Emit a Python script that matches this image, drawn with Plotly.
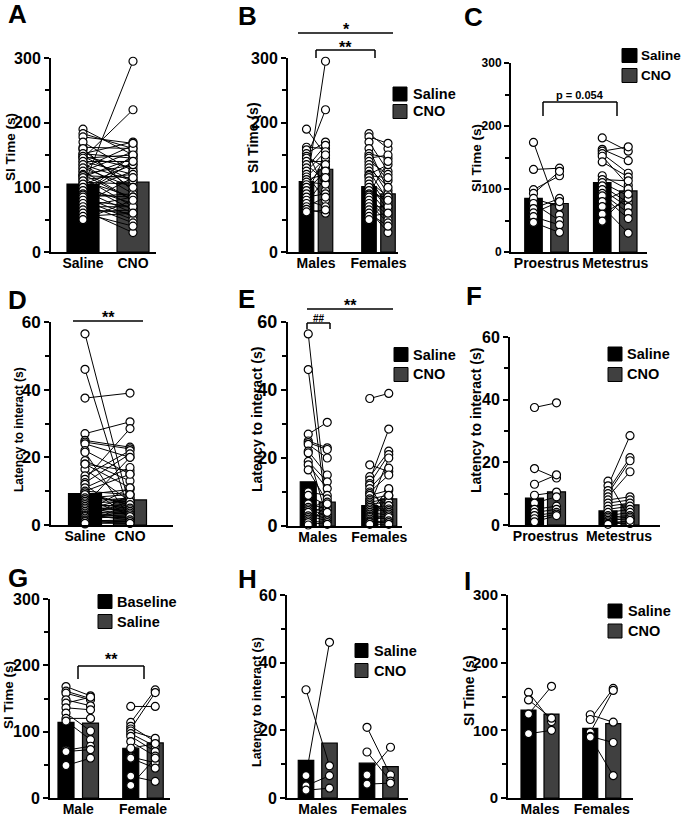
import plotly.graph_objects as go

W, H = 682, 817
NEGRO = '#000000'
GRIS = '#404040'
FUENTE = 'Liberation Sans'

# ---------------- datos ----------------
# B: tiempo de interaccion social (s) - machos / hembras, salino vs CNO
b_machos_sal = [190, 162, 158, 152, 148, 145, 140, 135, 130, 125, 120, 116,
                112, 108, 104, 100, 95, 90, 85, 80, 75, 70, 66, 62]
b_machos_cno = [150, 160, 95, 170, 130, 220, 140, 110, 165, 155, 80, 145,
                120, 105, 135, 295, 125, 150, 90, 70, 115, 85, 60, 65]
b_hembras_sal = [183, 178, 170, 160, 152, 148, 145, 140, 135, 130, 125, 120, 118, 115,
                 110, 105, 100, 95, 90, 88, 85, 80, 75, 70, 65, 60, 55, 50]
b_hembras_cno = [160, 168, 125, 95, 145, 110, 150, 120, 90, 100, 80, 135, 115, 70,
                 85, 65, 75, 60, 140, 85, 55, 50, 45, 70, 30, 40, 60, 80]

# C: hembras por fase del ciclo
c_pro_sal = [174, 131, 99, 93, 85, 77, 69, 62, 56, 47]
c_pro_cno = [59, 133, 121, 128, 72, 50, 85, 80, 43, 31]
c_met_sal = [181, 163, 160, 156, 152, 143, 121, 115, 110, 105, 99, 93, 89, 80, 72, 60, 49]
c_met_cno = [160, 145, 167, 125, 106, 119, 99, 113, 89, 78, 71, 62, 53, 100, 30, 85, 92]

# E: latencia para interactuar (s)
e_machos_sal = [56.5, 46, 27, 25, 24.5, 24, 22, 21.5, 19, 18, 16.5, 10,
                9, 6.5, 5.5, 5, 4.5, 4, 3, 2.5, 2, 1.5, 1, 0.3]
e_machos_cno = [5, 3, 30.5, 23, 22.5, 20, 15, 2, 13, 11, 7, 9,
                6, 5, 4, 3, 8, 2, 1.5, 7, 4, 1, 0.5, 6.5]
e_hembras_sal = [37.5, 18, 14.5, 13.5, 12.5, 12, 11, 10, 9.5, 9, 8, 7.5, 7, 6.5,
                 6, 5.5, 5, 4.5, 4, 3.5, 3, 2.8, 2.5, 2, 1.5, 1.2, 1, 0.5]
e_hembras_cno = [39, 16, 22, 28.5, 21, 2, 17, 15, 6, 10.5, 9, 3, 8, 7,
                 20, 6, 5, 4.5, 11, 4, 3.5, 2, 3, 2.5, 9, 1.5, 1, 0.5]

# F: latencia por fase del ciclo
f_pro_sal = [37.5, 18, 13, 9.5, 7, 5, 4, 3, 2, 1]
f_pro_cno = [39, 15, 16, 10.5, 9, 6, 5, 4, 3.5, 3]
f_met_sal = [14, 12.5, 11, 10, 9, 8, 7, 6, 5, 4, 3, 2.5, 2, 1.5, 1, 0.5, 0.2]
f_met_cno = [2, 28.5, 21.5, 20.5, 17, 9, 8, 7, 6, 5, 4, 3, 2.5, 2, 1, 0.5, 1.5]

# G: linea base vs salino
g_macho_base = [168, 161, 158, 148, 143, 136, 128, 120, 116, 72, 70, 49]
g_macho_sal = [154, 150, 148, 139, 152, 133, 101, 120, 88, 78, 73, 60]
g_hembra_base = [138, 114, 108, 104, 101, 97, 93, 85, 62, 60, 33, 19, 75]
g_hembra_sal = [138, 163, 85, 159, 90, 78, 70, 63, 53, 45, 25, 60, 82]

# H: latencia (cohorte pequena)
h_machos_sal = [32, 6.6, 3.6, 2.3]
h_machos_cno = [9.5, 46, 6.6, 2.9]
h_hembras_sal = [20.9, 13.6, 6.8, 4.1]
h_hembras_cno = [6.8, 5.0, 15.0, 4.4]

# I: tiempo SI (cohorte pequena)
i_machos_sal = [156, 145, 124, 95]
i_machos_cno = [113, 118, 165, 100]
i_hembras_sal = [123, 116, 97, 91, 90]
i_hembras_cno = [112, 162, 159, 82, 33]

# medias (altura de las barras)
a_medias = [105, 108]
b_medias = [109, 128, 101, 90]
c_medias = [85, 77, 110, 97]
d_medias = [9.3, 7.4]
e_medias = [13, 7, 6, 8]
f_medias = [8.6, 10.6, 4.5, 6.4]
g_medias = [114, 113, 75, 83]
h_medias = [11.1, 16.2, 10.3, 9.3]
i_medias = [130, 124, 103, 110]

# ---------------- paneles ----------------
# xd/yd: pixeles del eje; centros: pixel de cada grupo; off: separacion de barras
paneles = [
    dict(letra='A', xd=(51, 156), yd=(58, 252), ymax=300, centros=(83, 133), off=0, bw=32,
         cats=['Saline', 'CNO'], medias=a_medias,
         pares=[(b_machos_sal + b_hembras_sal, b_machos_cno + b_hembras_cno)],
         titulo='SI Time (s)', tit=(10, 147, 13.5), tick=16, pos_letra=(6, 14)),
    dict(letra='B', xd=(288, 398), yd=(58, 252), ymax=300, centros=(316, 378.5), off=9.5, bw=14.5,
         cats=['Males', 'Females'], medias=b_medias,
         pares=[(b_machos_sal, b_machos_cno), (b_hembras_sal, b_hembras_cno)],
         titulo='SI Time (s)', tit=(253, 138, 14), tick=16, pos_letra=(236, 16),
         leyenda=dict(sq=(393, 407), ys=(94, 111.5), tx=411, et=['Saline', 'CNO'], fs=14.5)),
    dict(letra='C', xd=(511, 647), yd=(63, 252), ymax=300, centros=(546.5, 615.25), off=13, bw=17.5,
         cats=['Proestrus', 'Metestrus'], medias=c_medias,
         pares=[(c_pro_sal, c_pro_cno), (c_met_sal, c_met_cno)],
         titulo='SI Time (s)', tit=(476, 158, 13.5), tick=12, pos_letra=(462, 17),
         leyenda=dict(sq=(622, 637), ys=(55.5, 75.5), tx=639, et=['Saline', 'CNO'], fs=13.5)),
    dict(letra='D', xd=(51, 173), yd=(322, 525), ymax=60, centros=(85, 130), off=0, bw=33,
         cats=['Saline', 'CNO'], medias=d_medias,
         pares=[(e_machos_sal + e_hembras_sal, e_machos_cno + e_hembras_cno)],
         titulo='Latency to interact (s)', tit=(19, 430, 12), tick=17, pos_letra=(6, 300)),
    dict(letra='E', xd=(288, 402), yd=(322, 526), ymax=60, centros=(317.75, 379.25), off=9.5, bw=16,
         cats=['Males', 'Females'], medias=e_medias,
         pares=[(e_machos_sal, e_machos_cno), (e_hembras_sal, e_hembras_cno)],
         titulo='Latency to interact (s)', tit=(257, 420, 14), tick=18, pos_letra=(236, 299),
         leyenda=dict(sq=(394, 408), ys=(354.5, 374.5), tx=411, et=['Saline', 'CNO'], fs=14.5)),
    dict(letra='F', xd=(510, 660), yd=(337, 525), ymax=60, centros=(545.5, 619), off=11, bw=18,
         cats=['Proestrus', 'Metestrus'], medias=f_medias,
         pares=[(f_pro_sal, f_pro_cno), (f_met_sal, f_met_cno)],
         titulo='Latency to interact (s)', tit=(476, 421, 14), tick=16, pos_letra=(464, 296),
         leyenda=dict(sq=(608, 622), ys=(354, 374.5), tx=625, et=['Saline', 'CNO'], fs=14.5)),
    dict(letra='G', xd=(50, 170), yd=(599, 798), ymax=300, centros=(78.25, 143), off=12.25, bw=16,
         cats=['Male', 'Female'], medias=g_medias,
         pares=[(g_macho_base, g_macho_sal), (g_hembra_base, g_hembra_sal)],
         titulo='SI Time (s)', tit=(8, 695, 13.5), tick=16, pos_letra=(6, 578),
         leyenda=dict(sq=(98, 112), ys=(601.5, 621.5), tx=115, et=['Baseline', 'Saline'], fs=14.5)),
    dict(letra='H', xd=(287, 408), yd=(595, 798), ymax=60, centros=(317.75, 378.75), off=11.75, bw=15.5,
         cats=['Males', 'Females'], medias=h_medias,
         pares=[(h_machos_sal, h_machos_cno), (h_hembras_sal, h_hembras_cno)],
         titulo='Latency to interact (s)', tit=(257, 702, 12.5), tick=16, pos_letra=(236, 579),
         leyenda=dict(sq=(355, 368), ys=(650.5, 670.5), tx=372, et=['Saline', 'CNO'], fs=14.5)),
    dict(letra='I', xd=(508, 633), yd=(595, 798), ymax=300, centros=(540, 601.75), off=11.5, bw=15,
         cats=['Males', 'Females'], medias=i_medias,
         pares=[(i_machos_sal, i_machos_cno), (i_hembras_sal, i_hembras_cno)],
         titulo='SI Time (s)', tit=(469, 691, 14), tick=15, pos_letra=(462, 581),
         leyenda=dict(sq=(608, 622), ys=(611, 631), tx=626, et=['Saline', 'CNO'], fs=14.5)),
]

# marcas de significancia: (tipo, x0, x1, y, y_baja, texto, tx, ty, tamano)
signif = [
    ('linea', 298, 393, 33, None, '*', 346, 40, 16),
    ('corchete', 316, 375, 50, 58, '**', 345, 58, 16),
    ('corchete', 543, 617, 102, 116, 'p = 0.054', 580, 103, 11),
    ('linea', 73, 143, 321, None, '**', 108, 328, 16),
    ('linea', 307, 393, 309, None, '**', 350, 316, 16),
    ('corchete', 307, 330, 323, 329, '##', 319, 326, 10),
    ('corchete', 78, 144, 666, 679, '**', 111, 670, 16),
]


def fx(p):
    return p / W


def fy(p):
    return 1 - p / H


def negrita(size):
    return dict(family=FUENTE, size=size, color='black', weight='bold')


fig = go.Figure()
layout = dict(template='none', width=W, height=H, margin=dict(l=0, r=0, t=0, b=0, pad=0),
              plot_bgcolor='white', paper_bgcolor='white', showlegend=False,
              barmode='overlay', font=dict(family=FUENTE, color='black'))
anots = []
formas = []

for i, p in enumerate(paneles, start=1):
    suf = '' if i == 1 else str(i)
    xa, ya = 'x' + suf, 'y' + suf
    c0, c1 = p['centros']
    u = c1 - c0
    rango_x = [(p['xd'][0] - c0) / u, (p['xd'][1] - c0) / u]
    off = p['off'] / u
    ancho = p['bw'] / u
    ymax = p['ymax']

    if off == 0:
        xb = [0, 1]
        colores = [NEGRO, GRIS]
        posiciones = [(0, 1)]
    else:
        xb = [-off, off, 1 - off, 1 + off]
        colores = [NEGRO, GRIS, NEGRO, GRIS]
        posiciones = [(-off, off), (1 - off, 1 + off)]

    fig.add_trace(go.Bar(x=xb, y=p['medias'], width=ancho,
                         marker=dict(color=colores, line=dict(color='black', width=1.2)),
                         xaxis=xa, yaxis=ya, hoverinfo='skip'))

    for (sal, cno), (xs0, xs1) in zip(p['pares'], posiciones):
        xs, ys = [], []
        for s, c in zip(sal, cno):
            xs += [xs0, xs1, None]
            ys += [s, c, None]
        fig.add_trace(go.Scatter(x=xs, y=ys, mode='lines+markers',
                                 line=dict(color='black', width=1),
                                 marker=dict(size=8, color='white',
                                             line=dict(color='black', width=1.2)),
                                 cliponaxis=False, xaxis=xa, yaxis=ya, hoverinfo='skip'))

    layout['xaxis' + suf] = dict(domain=[fx(p['xd'][0]), fx(p['xd'][1])], range=rango_x,
                                 anchor=ya, showline=True, linecolor='black', linewidth=2,
                                 ticks='', tickvals=[0, 1], ticktext=p['cats'], tickangle=0,
                                 ticklabelstandoff=-3,
                                 tickfont=negrita(14), showgrid=False, zeroline=False,
                                 automargin=False)
    layout['yaxis' + suf] = dict(domain=[fy(p['yd'][1]), fy(p['yd'][0])], range=[0, ymax],
                                 anchor=xa, showline=True, linecolor='black', linewidth=2,
                                 ticks='outside', ticklen=5, tickwidth=2, tickcolor='black',
                                 tickvals=[0, ymax / 3, 2 * ymax / 3, ymax],
                                 ticktext=[str(int(v)) for v in (0, ymax / 3, 2 * ymax / 3, ymax)],
                                 minor=dict(ticks='outside', ticklen=4, tickwidth=1.5,
                                            tickcolor='black',
                                            tickvals=[ymax / 6, ymax / 2, 5 * ymax / 6]),
                                 tickfont=negrita(p['tick']), showgrid=False, zeroline=False,
                                 automargin=False)

    # letra del panel
    lx, ly = p['pos_letra']
    anots.append(dict(text=p['letra'], x=fx(lx), y=fy(ly), xref='paper', yref='paper',
                      xanchor='left', yanchor='middle', showarrow=False, font=negrita(26)))
    # titulo eje y
    tx, ty, ts = p['tit']
    anots.append(dict(text=p['titulo'], x=fx(tx), y=fy(ty), xref='paper', yref='paper',
                      textangle=-90, xanchor='center', yanchor='middle', showarrow=False,
                      font=negrita(ts)))
    # leyenda
    if 'leyenda' in p:
        lg = p['leyenda']
        for yc, et, col in zip(lg['ys'], lg['et'], [NEGRO, GRIS]):
            formas.append(dict(type='rect', xref='paper', yref='paper',
                               x0=fx(lg['sq'][0]), x1=fx(lg['sq'][1]),
                               y0=fy(yc + 7), y1=fy(yc - 7),
                               fillcolor=col, line=dict(color='black', width=1)))
            anots.append(dict(text=et, x=fx(lg['tx']), y=fy(yc), xref='paper', yref='paper',
                              xanchor='left', yanchor='middle', showarrow=False,
                              font=negrita(lg['fs'])))

for tipo, x0, x1, y, yb, txt, tx, ty, ts in signif:
    formas.append(dict(type='line', xref='paper', yref='paper', x0=fx(x0), x1=fx(x1),
                       y0=fy(y), y1=fy(y), line=dict(color='black', width=1.5)))
    if tipo == 'corchete':
        for xx in (x0, x1):
            formas.append(dict(type='line', xref='paper', yref='paper', x0=fx(xx), x1=fx(xx),
                               y0=fy(y), y1=fy(yb), line=dict(color='black', width=1.5)))
    anots.append(dict(text=txt, x=fx(tx), y=fy(ty), xref='paper', yref='paper',
                      xanchor='center', yanchor='bottom', showarrow=False, font=negrita(ts)))

layout['annotations'] = anots
layout['shapes'] = formas
fig.update_layout(**layout)

# la pagina trae un margen de 8px en <body>; se quita para que la figura quede en (0, 0)
fig.write_html("out.html", config={'displayModeBar': False},
               post_script="document.body.style.margin = '0px';")
